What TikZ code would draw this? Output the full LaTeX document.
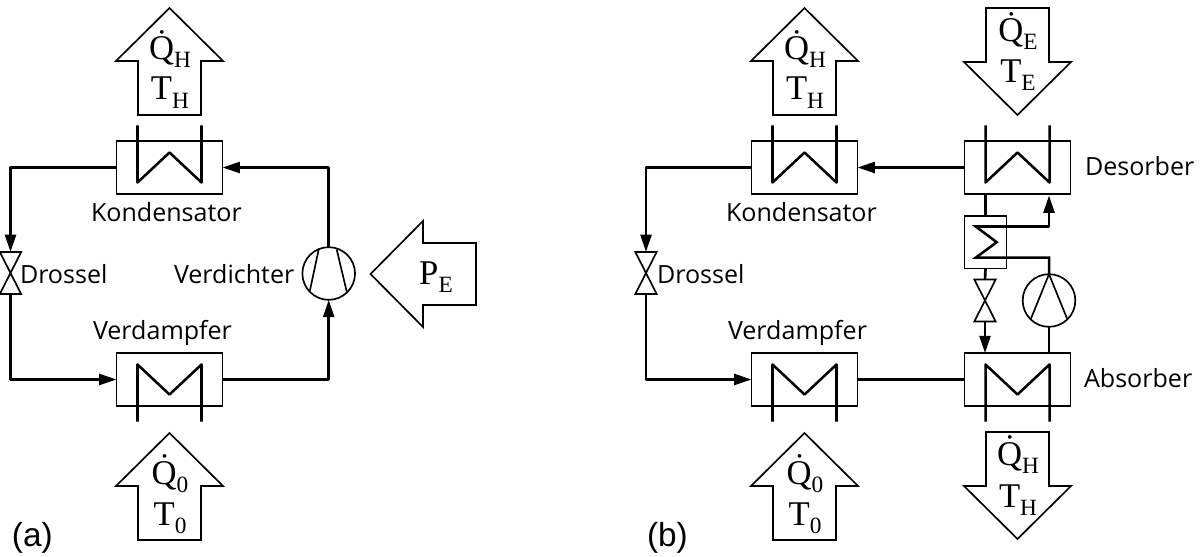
\documentclass[tikz,border=0pt]{standalone}
\usepackage{fontspec}
\setmainfont{Open Sans}
\newfontfamily\symfont{Liberation Serif}
\newfontfamily\tagfont{Liberation Sans}
\usetikzlibrary{arrows.meta,calc}
\newcommand{\subt}[2]{\raisebox{-6pt}{\fontsize{17.5}{17.5}\selectfont #2}}
\newcommand{\exch}[4]{% name, center x, center y, up(1)/down(-1) opening
  \node[hxbox] (#1) at (#2,#3) {};
  \draw[coil] ($(#1.center)+(-32,{-42*#4})$) -- ($(#1.center)+(-32,{15*#4})$) -- ($(#1.center)+(0,{-15*#4})$) -- ($(#1.center)+(32,{15*#4})$) -- ($(#1.center)+(32,{-42*#4})$);
}
\newcommand{\valveat}[3]{%
  \node[valvebox] (#1) at (#2,#3) {};
  \draw[thin line] (#1.north west) -- (#1.north east) -- (#1.south west) -- (#1.south east) -- cycle;
}
\newcommand{\blockup}[3]{% name, cx, top y
  \coordinate (#1) at (#2,#3);
  \draw[thin line,fill=white] (#1) -- ++(53.5,53) -- ++(-22,0) -- ++(0,54) -- ++(-63,0) -- ++(0,-54) -- ++(-22,0) -- cycle;
}
\newcommand{\blockdown}[3]{% name, cx, bottom y
  \coordinate (#1) at (#2,#3);
  \draw[thin line,fill=white] (#1) -- ++(53.5,-53) -- ++(-22,0) -- ++(0,-54) -- ++(-63,0) -- ++(0,54) -- ++(-22,0) -- cycle;
}
\newcommand{\heat}[5]{% name, x, Q baseline, sub, T baseline
  \node[sym] (#1q) at (#2,#3) {Q̇\subt{}{#4}};
  \node[sym] (#1t) at (#2,#5) {T\subt{}{#4}};
}
\begin{document}
\begin{tikzpicture}[x=0.75pt,y=-0.75pt,
  thin line/.style={line width=1.25pt,line join=miter},
  coil/.style={line width=1.9pt,line join=round},
  pipe/.style={line width=2pt,line join=round},
  flow/.style={pipe,-{Triangle[length=13pt,width=8.2pt]}},
  hxbox/.style={draw,line width=1.25pt,minimum width=79.5pt,minimum height=39.5pt,inner sep=0pt,outer sep=0pt},
  smallbox/.style={draw,line width=1.25pt,minimum width=31.5pt,minimum height=39.5pt,inner sep=0pt,outer sep=0pt},
  valvebox/.style={minimum width=16pt,minimum height=31.5pt,inner sep=0pt,outer sep=0pt},
  machine/.style={draw,circle,line width=1.25pt,minimum size=39.5pt,inner sep=0pt,outer sep=0pt},
  lab/.style={font=\fontsize{18.8}{22}\selectfont,anchor=base west,inner sep=0pt,outer sep=0pt},
  sym/.style={font=\symfont\fontsize{26}{28}\selectfont,anchor=base,inner sep=0pt,outer sep=0pt},
  tagl/.style={font=\tagfont\fontsize{25}{27}\selectfont,anchor=base west,inner sep=0pt,outer sep=0pt}]
\useasboundingbox (0,0) rectangle (1201,556);

% ---------- panel (a)
\exch{ka}{169.5}{167.5}{1}
\exch{va}{169.5}{379.5}{-1}
\valveat{da}{10.5}{273}
\node[machine] (ca) at (328.7,273.5) {};
\draw[thin line] ($(ca.center)+(-10,-24)$) -- ($(ca.center)+(-19,18)$);
\draw[thin line] ($(ca.center)+(8,-24)$) -- ($(ca.center)+(18,18)$);
\draw[flow] (ka.west) -| (da.north);
\draw[flow] (da.south) |- (va.west);
\draw[flow] (va.east) -| (ca.south);
\draw[flow] (ca.north) |- (ka.east);
\blockup{qa1}{169.5}{8}
\heat{qa1}{170}{60}{H}{100}
\blockup{qa2}{169.5}{433}
\heat{qa2}{170}{484}{0}{525}
\coordinate (pe) at (370.5,274);
\draw[thin line,fill=white] (pe) -- ++(52.5,-53) -- ++(0,22) -- ++(53,0) -- ++(0,62) -- ++(-53,0) -- ++(0,22) -- cycle;
\node[sym] (pel) at (436,284) {P\subt{}{E}};
\node[lab] (la1) at (91,221) {Kondensator};
\node[lab] (la2) at (20,283) {Drossel};
\node[lab] (la3) at (174,283) {Verdichter};
\node[lab] (la4) at (93,339) {Verdampfer};
\node[tagl] (ta) at (12,546) {(a)};

% ---------- panel (b)
\exch{kb}{804.5}{167.5}{1}
\exch{vb}{804.5}{379.5}{-1}
\exch{de}{1017.5}{167.5}{1}
\exch{ab}{1017.5}{379.5}{-1}
\valveat{db}{646}{273}
\valveat{dc}{985}{300.5}
\node[smallbox] (ix) at (985.5,242) {};
\node[machine] (cb) at (1049,300.5) {};
\draw[thin line] (cb.north) -- ($(cb.center)+(-18,18)$);
\draw[thin line] (cb.north) -- ($(cb.center)+(18,18)$);
\coordinate (ixa) at (975.7,226.5);
\coordinate (ixb) at (996.7,242.2);
\coordinate (ixc) at (975.7,257.7);
\draw[flow] (de.west) -- (kb.east);
\draw[flow] (kb.west) -| (db.north);
\draw[flow] (db.south) |- (vb.west);
\draw[pipe] (vb.east) -- (ab.west);
\draw[pipe] (de.south -| ix.north) -- (ix.north);
\draw[pipe] (ix.south) -- (dc.north);
\draw[flow] (dc.south) -- (ab.north -| dc.south);
\draw[pipe] (ab.north -| cb.south) -- (cb.south);
\coordinate (dein) at (1049,195.5);
\draw[coil,line join=miter] (cb.north) |- (ixc) -- (ixb) -- (ixa) -| (ix.east |- ixa);
\draw[flow] (ix.east |- ixa) -| (dein);
\blockup{qb1}{804.5}{8}
\heat{qb1}{805}{60}{H}{100}
\blockup{qb2}{804.5}{433}
\heat{qb2}{805}{484}{0}{525}
\blockdown{qb3}{1017.5}{115}
\heat{qb3}{1018}{42}{E}{83}
\blockdown{qb4}{1017.5}{539}
\heat{qb4}{1018}{465}{H}{507}
\node[lab] (lb1) at (726,221) {Kondensator};
\node[lab] (lb2) at (657,283) {Drossel};
\node[lab] (lb3) at (728,339) {Verdampfer};
\node[lab] (lb4) at (1085,175) {Desorber};
\node[lab] (lb5) at (1084,387) {Absorber};
\node[tagl] (tb) at (647,546) {(b)};
\end{tikzpicture}
\end{document}
